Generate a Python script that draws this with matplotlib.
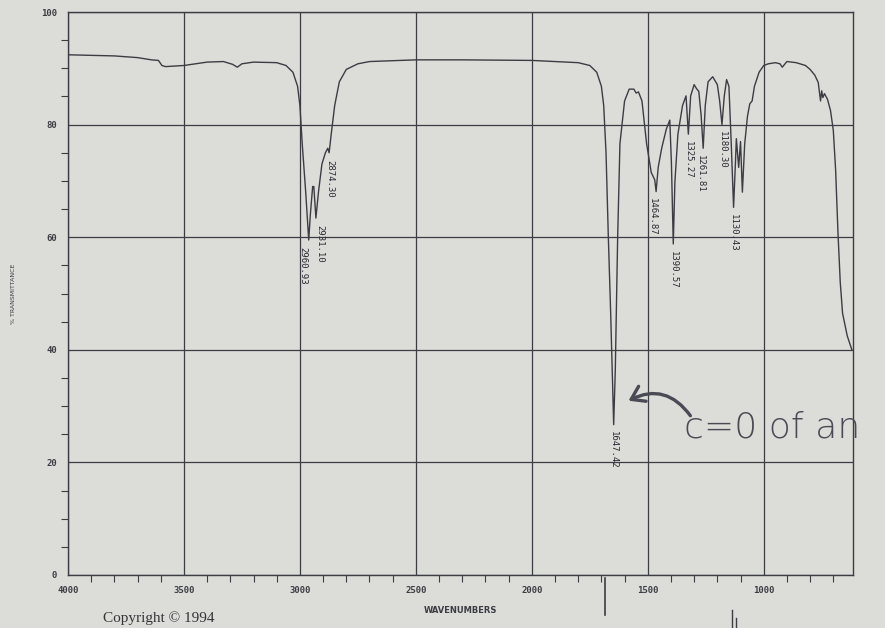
import matplotlib
matplotlib.use("Agg")
import matplotlib.pyplot as plt
from matplotlib.ticker import MultipleLocator

# spectrum (wavenumber, % transmittance)
wavenumber = [4000, 3900, 3800, 3700, 3640, 3610, 3595, 3580, 3500, 3400,
              3330, 3290, 3270, 3250, 3200, 3100, 3060, 3030, 3010, 3000,
              2990, 2975, 2962, 2955, 2945, 2940, 2931, 2920, 2905, 2890,
              2880, 2874, 2865, 2850, 2830, 2800, 2750, 2700, 2500, 2300,
              2000, 1900, 1800, 1750, 1720, 1700, 1690, 1680, 1670, 1660,
              1647, 1640, 1630, 1620, 1600, 1580, 1560, 1550, 1540, 1525,
              1505, 1485, 1470, 1464, 1455, 1440, 1420, 1405, 1398, 1390,
              1383, 1370, 1350, 1335, 1325, 1315, 1300, 1290, 1280, 1270,
              1261, 1252, 1240, 1220, 1200, 1190, 1180, 1170, 1160, 1150,
              1140, 1130, 1122, 1118, 1108, 1100, 1092, 1082, 1070, 1060,
              1050, 1040, 1020, 1000, 980, 950, 930, 920, 900, 860,
              820, 800, 780, 765, 755, 750, 745, 738, 725, 712,
              700, 690, 680, 670, 660, 640, 620]
transmittance = [92.4, 92.3, 92.2, 91.9, 91.5, 91.4, 90.5, 90.3, 90.5, 91.1,
                 91.2, 90.7, 90.2, 90.8, 91.1, 91.0, 90.5, 89.3, 86.8, 83.4,
                 76.6, 68.0, 59.5, 64.0, 69.0, 69.0, 63.4, 68.0, 73.0, 75.0,
                 75.8, 75.0, 78.3, 83.4, 87.6, 89.8, 90.8, 91.2, 91.5, 91.5,
                 91.4, 91.2, 91.0, 90.5, 89.3, 86.8, 83.4, 75.0, 60.0, 46.6,
                 26.7, 36.4, 59.6, 76.6, 84.2, 86.3, 86.3, 85.6, 85.8, 84.2,
                 76.6, 71.5, 70.2, 68.1, 72.4, 75.8, 79.2, 80.8, 73.2, 58.8,
                 69.8, 78.3, 83.4, 85.1, 78.3, 85.1, 87.1, 86.4, 85.9, 81.7,
                 75.8, 83.4, 87.6, 88.5, 87.1, 84.2, 80.0, 85.1, 88.0, 86.8,
                 76.6, 65.3, 73.2, 77.5, 72.4, 77.0, 68.0, 76.6, 81.5, 83.7,
                 84.2, 86.8, 89.3, 90.5, 90.8, 91.0, 90.8, 90.2, 91.2, 91.0,
                 90.5, 89.8, 88.8, 87.5, 84.2, 86.0, 84.8, 85.5, 84.5, 82.5,
                 79.0, 72.0, 61.0, 52.0, 46.5, 42.5, 40.0]

peak_wn = [2960.93, 2931.10, 2874.30, 1647.42, 1464.87, 1390.57,
           1325.27, 1261.81, 1180.30, 1130.43]
peak_t = [59.5, 63.4, 75.0, 26.7, 68.1, 58.8, 78.3, 75.8, 80.0, 65.3]
peak_text = ["2960.93", "2931.10", "2874.30", "1647.42", "1464.87",
             "1390.57", "1325.27", "1261.81", "1180.30", "1130.43"]
# sideways nudge (cm-1) so the printed labels sit as on the scan
peak_shift = [25, -16, -5, 0, 15, 0, 0, 10, 0, 0]

x_ticks = [4000, 3500, 3000, 2500, 2000, 1500, 1000]
y_ticks = [0, 20, 40, 60, 80, 100]

paper = "#dcddd9"
ink = "#3c3c44"

fig = plt.figure(figsize=(8.85, 6.28), dpi=100, facecolor=paper)
ax = fig.add_axes([68/885, 1-575/628, 785/885, 563/628])
ax.set_facecolor(paper)

ax.plot(wavenumber, transmittance, color=ink, lw=1.0)

ax.set_xlim(4000, 615)
ax.set_ylim(0, 100)
ax.set_xticks(x_ticks)
ax.set_yticks(y_ticks)
ax.xaxis.set_minor_locator(MultipleLocator(100))
ax.yaxis.set_minor_locator(MultipleLocator(5))
ax.grid(which="major", color=ink, lw=0.9)
ax.tick_params(which="major", length=0, pad=8, labelsize=6.5, colors=ink)
ax.tick_params(which="minor", length=5, width=0.8, color=ink, direction="out")
for lab in ax.get_xticklabels() + ax.get_yticklabels():
    lab.set_fontweight("bold")
    lab.set_family("DejaVu Sans Mono")
for s in ax.spines.values():
    s.set_color(ink)
    s.set_linewidth(1.0)

ax.set_xlabel("WAVENUMBERS", fontsize=6, fontweight="bold", color=ink, labelpad=8)
ax.set_ylabel("% TRANSMITTANCE", fontsize=4.5, color=ink, labelpad=18)

# peak labels printed under each band
for w, t, s, d in zip(peak_wn, peak_t, peak_text, peak_shift):
    ax.text(w + d, t - 1.2, s, rotation=270, ha="center", va="top",
            fontsize=6.5, family="DejaVu Sans Mono", color="#2a2a33")

# handwritten note
fig.text(684/885, 1-428/628, "c=0 of an", fontsize=26, color="#4a4a55",
         family="DejaVu Sans", fontweight="light", va="center", ha="left")
fig.patches.append(matplotlib.patches.FancyArrowPatch(
    (692/885, 1-418/628), (626/885, 1-402/628), transform=fig.transFigure,
    connectionstyle="arc3,rad=0.45", arrowstyle="->,head_length=9,head_width=6",
    color="#4a4a55", lw=2.4))

fig.text(103/885, 1-618/628, "Copyright \u00a9 1994", fontsize=11,
         family="Liberation Serif", color="#333338", va="center")
fig.add_artist(plt.Line2D([605/885, 605/885], [1-578/628, 1-615/628],
                          color=ink, lw=1.2))
fig.add_artist(plt.Line2D([732/885, 732/885], [1-610/628, 0], color=ink, lw=1.0))
fig.add_artist(plt.Line2D([736/885, 736/885], [1-618/628, 0], color=ink, lw=1.0))

fig.savefig("out.png", dpi=100, facecolor=paper)
